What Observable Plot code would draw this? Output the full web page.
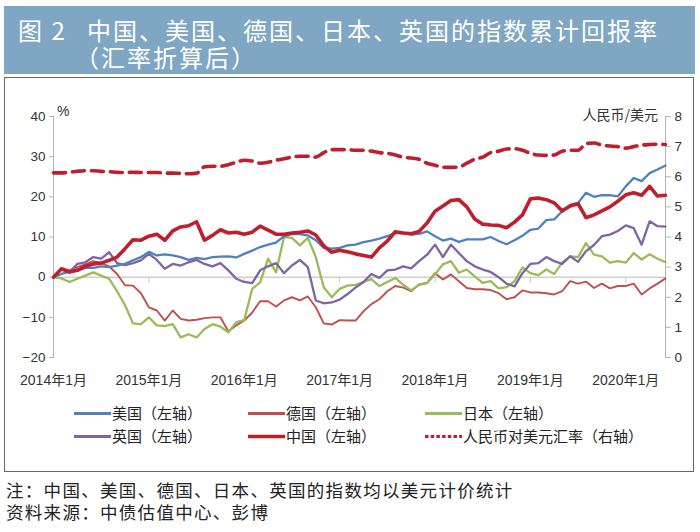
<!DOCTYPE html>
<html><head><meta charset="utf-8">
<script src="https://cdn.jsdelivr.net/npm/d3@7"></script>
<script src="https://cdn.jsdelivr.net/npm/@observablehq/plot@0.6"></script>
<style>
body{margin:0;width:700px;height:532px;position:relative;background:#fff;font-family:"Noto Sans CJK SC","Liberation Sans",sans-serif;overflow:hidden;color:#222}
#band{position:absolute;left:4px;top:6px;width:691px;height:68px;background:#7fa6c3;color:#fff}
#band div{position:absolute;font-size:24px;line-height:27px;letter-spacing:2px;white-space:pre-line}
#box{position:absolute;left:4px;top:77px;width:688px;height:393px;border:1.5px solid #666}
#chart{position:absolute;left:0;top:80px}
.lab{position:absolute;font-size:14px;line-height:16px;color:#333;white-space:nowrap;font-family:"Liberation Sans","Noto Sans CJK SC",sans-serif}
.leg{position:absolute;font-size:15px;line-height:18px;white-space:nowrap;display:flex;align-items:center}
.leg svg{margin-right:1px}
.note{position:absolute;left:6px;top:479px;font-size:17.5px;line-height:22px;letter-spacing:1.3px;white-space:pre-line}
</style></head>
<body>
<div id="band">
  <div style="left:14px;top:10px">图 2</div>
  <div style="left:71px;top:10px;text-indent:12px">中国、美国、德国、日本、英国的指数累计回报率
（汇率折算后）</div>
</div>
<div id="box"></div>
<div id="chart"></div>
<div class="lab" style="left:57px;top:103px">%</div>
<div class="lab" style="right:42px;top:106px;font-family:'Noto Sans CJK SC',sans-serif">人民币/美元</div>
<div id="legend"></div>
<div class="note">注：中国、美国、德国、日本、英国的指数均以美元计价统计
资料来源：中债估值中心、彭博</div>
<script>
// months since 2014年1月 (index 0) through 2020年6月 (index 77)
const tickMonths = [0, 12, 24, 36, 48, 60, 72];
const tickLabels = ["2014年1月","2015年1月","2016年1月","2017年1月","2018年1月","2019年1月","2020年1月"];
const leftTicks = [-20, -10, 0, 10, 20, 30, 40];
const rightTicks = [0, 1, 2, 3, 4, 5, 6, 7, 8];

const china = [0,2.1,1.3,1.7,2.7,3.3,3.5,4.2,5,7.1,9.3,9.2,10.2,10.7,9.2,11.5,12.5,12.8,13.8,9.2,10.4,
  11.8,11,11.2,10.7,11.2,12.7,11.7,10.7,10.7,11,11.2,11.5,10.5,7.8,6.2,6.7,6.3,
  5.8,5.4,5.0,7.3,9,11.3,11,10.8,11.4,13.5,16.4,17.7,19.1,19.3,17.5,14.5,13.2,13,12.9,12.3,
  13.7,15.5,19.5,19.7,19.3,18.5,16.5,17.7,18.3,14.8,15.5,16.5,17.5,18.9,20.5,21,20.4,22.6,20.2,20.4];
const usa = [0,0.8,1.3,1.7,2.3,2.3,2.7,2.5,2.9,3.3,4.2,5,6.3,5.4,5.7,5.4,5,4.3,4.8,4.5,5,
  5.1,5.2,4.9,5.8,6.6,7.5,8.1,8.6,10.2,10.7,10.7,10.4,9.2,7.3,7.1,7.3,7.9,
  8.1,8.7,9.1,9.6,10.2,11,11,10.6,10.8,11.4,10.2,9.1,9.6,8.8,9.4,9.4,9.4,10,9,8.2,
  9.2,10.3,11.8,12.1,14.2,14.4,16.4,18,18.5,21,20,20.4,20.4,20.1,22.6,24.7,23.9,25.9,26.8,27.8];
const germany = [0,2.1,1.7,2.5,3.2,4,3.5,2.7,0.8,-2,-2.1,-4,-7.5,-8.3,-10.8,-8.3,-10.4,-10.8,-10.6,-10.2,-10,
  -10,-13.5,-12,-10.8,-8.8,-6,-6,-7.3,-5.8,-5,-5.8,-4.8,-7.5,-11.5,-11.8,-10.7,-10.8,
  -10.8,-8.5,-6.7,-5.5,-3.5,-2.2,-2.6,-3.5,-1.8,-1.4,1,-0.6,0.7,-1,-2.7,-3,-3,-3.2,-4,-5.5,
  -5,-3.3,-3.8,-3.8,-4,-4.3,-3.5,-1,-1.6,-1.1,-2.7,-1.6,-2.8,-2.2,-2.2,-1.6,-4.3,-2.8,-1.6,-0.3];
const japan = [0,-0.3,-1.2,-0.4,0.4,1.2,0.4,-0.4,-3.5,-7,-11.5,-11.7,-10,-12,-12.2,-11.7,-15,-14.2,-15,-12.9,-11.7,
  -12.3,-13.7,-11.2,-10.7,-2.9,-1.3,4.6,1.2,10,9.8,7.9,9.8,5,-2.5,-5,-2.9,-2.1,
  -1.9,-1.2,-0.5,-2.2,-1.2,-0.2,-1.9,-3.3,-1.9,-1.5,0.7,3.2,4,1.1,1.9,0.2,-1.4,-1,-2.8,-2.5,
  -1,2.4,1,0.5,1.9,0.8,3.6,5.2,5,8.5,5.6,5.2,3.6,4,3.6,6,4.4,5.7,4.6,3.7];
const uk = [0,2.1,1.2,3.3,3.7,5,4.6,6.2,3.5,3,3.5,4.2,5.8,4.3,2.1,3.3,2.9,3.7,4.3,3.3,2.7,
  3.5,1.7,-0.4,-1.2,-1.5,1.7,2.7,3.5,1,2.9,4.3,2.5,-5.8,-6.5,-6.3,-5.6,-4.2,
  -2.6,-1.2,0.8,-0.2,1.7,1.9,2.7,2.2,4,5.6,8.1,5,8.1,6,4,2.7,1.9,1.3,0,-1.6,
  -2.3,1,3.3,3.5,5,4,3.3,5.2,3.8,6.5,8,10.2,10.6,11.5,12.9,12.2,8.1,13.9,12.7,12.6];
const usdcny = [6.13,6.13,6.15,6.18,6.2,6.2,6.18,6.17,6.15,6.14,6.15,6.14,6.14,6.14,6.12,6.12,6.11,6.1,6.12,
  6.33,6.35,6.35,6.4,6.48,6.55,6.52,6.45,6.48,6.55,6.6,6.65,6.68,6.68,6.65,6.8,6.9,6.9,6.9,
  6.88,6.88,6.85,6.8,6.78,6.72,6.65,6.62,6.58,6.45,6.38,6.32,6.31,6.32,6.45,6.58,6.65,6.8,6.85,6.92,
  6.93,6.88,6.78,6.72,6.71,6.72,6.85,6.88,6.88,7.1,7.12,7.05,7.02,7.0,6.95,7.0,7.05,7.07,7.08,7.07];

const names = ["美国（左轴）","德国（左轴）","日本（左轴）","英国（左轴）","中国（左轴）","人民币对美元汇率（右轴）"];
const colors = ["#4f81bd","#c0504d","#9bbb59","#8064a2","#be1e2d","#be1e2d"];

// right axis (0–8) mapped onto left axis (−20–40)
const toLeft = r => -20 + r * 7.5;
const fromLeft = v => (v + 20) / 7.5;

const series = [usa, germany, japan, uk, china];
const rows = (arr) => arr.map((v, i) => ({m: i, v}));
const fxRows = usdcny.map((r, i) => ({m: i, v: toLeft(r)}));

const widths = [2.3, 1.9, 2.3, 2.3, 3.6];
const order = [1, 2, 3, 0, 4];

const plot = Plot.plot({
  width: 700, height: 312,
  marginTop: 36, marginBottom: 35, marginLeft: 53, marginRight: 35,
  style: {fontFamily: "'Liberation Sans','Noto Sans CJK SC',sans-serif", fontSize: "13.5px", color: "#333", background: "transparent"},
  x: {type: "linear", domain: [0, 77]},
  y: {domain: [-20, 40]},
  marks: [
    Plot.ruleY([0], {stroke: "#cfcfcf", strokeWidth: 1.5}),
    Plot.ruleX(tickMonths.slice(1), {x: d => d, y1: 0, y2: -1.5, stroke: "#cfcfcf", strokeWidth: 1.2}),
    Plot.frame({anchor: "left", stroke: "#b5b5b5"}),
    Plot.frame({anchor: "right", stroke: "#b5b5b5"}),
    Plot.axisY({anchor: "left", ticks: leftTicks, tickSize: 4, tickPadding: 4, label: null, stroke: "#b5b5b5", tickFormat: d => d < 0 ? "−" + Math.abs(d) : String(d)}),
    Plot.axisY({anchor: "right", ticks: rightTicks.map(toLeft), tickSize: 5, tickPadding: 4, label: null, stroke: "#b5b5b5", tickFormat: v => String(Math.round(fromLeft(v)))}),
    Plot.axisX({ticks: tickMonths, tickSize: 0, tickPadding: 18, label: null, tickFormat: (d) => tickLabels[tickMonths.indexOf(d)], fontSize: "14px"}),
    ...order.map(k => Plot.lineY(rows(series[k]), {x: "m", y: "v", stroke: colors[k], strokeWidth: widths[k], strokeLinejoin: "round"})),
    Plot.lineY(fxRows, {x: "m", y: "v", stroke: colors[5], strokeWidth: 3.6, strokeDasharray: "12,7", curve: "monotone-x"})
  ]
});
document.getElementById("chart").appendChild(plot);

// legend
const legPos = [[74,404],[248,404],[425,404],[74,427],[248,427],[425,427]];
const legend = document.getElementById("legend");
names.forEach((n, i) => {
  const d = document.createElement("div");
  d.className = "leg";
  d.style.left = legPos[i][0] + "px";
  d.style.top = legPos[i][1] + "px";
  const sw = i === 5 ? 3 : [3, 3, 3, 3, 3.6][i];
  const dash = i === 5 ? ' stroke-dasharray="3.5,2.2"' : "";
  d.innerHTML = `<svg width="37" height="18"><line x1="0" y1="9.5" x2="37" y2="9.5" stroke="${colors[i]}" stroke-width="${sw}"${dash}/></svg><span>${n}</span>`;
  legend.appendChild(d);
});
</script>
</body></html>
